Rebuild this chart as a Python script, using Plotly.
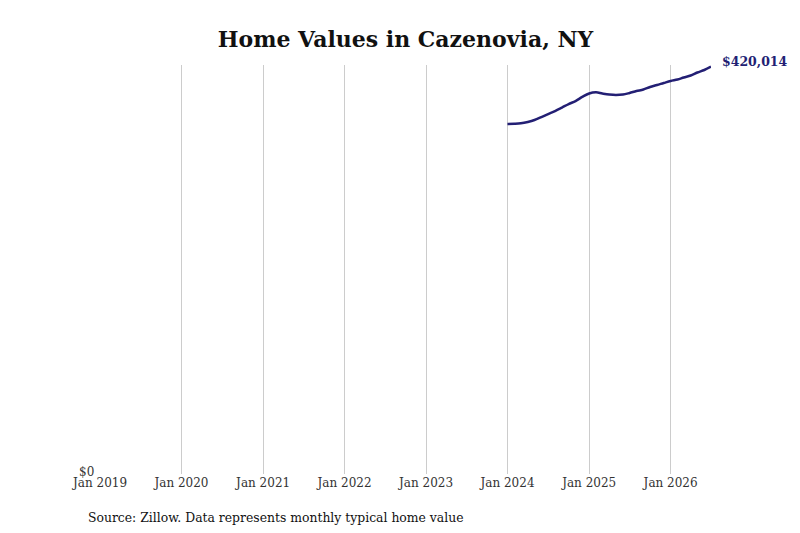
import pandas as pd
import plotly.graph_objects as go

# ---- DATA -------
months = pd.date_range('2024-01-01', '2026-07-01', freq='MS')
home_values = [
    360920, 361100, 361600, 363000, 365000, 368100, 371200, 374300,
    377900, 381500, 384600, 388800, 392400, 393600, 392400, 391300,
    390800, 391300, 392900, 394900, 396500, 399100, 401100, 403200,
    405300, 406800, 408900, 410900, 414000, 416600, 420014,
]
tick_dates = pd.date_range('2019-01-01', '2026-01-01', freq='YS')
tick_labels = [f'Jan {d.year}' for d in tick_dates]
# --------------------------

line_color = '#231f74'
font_family = 'DejaVu Serif'

# the page puts the figure 8px in from the top-left, so margins are trimmed by 8
m_left, m_top, plot_w, plot_h = 92, 57, 611, 409

fig = go.Figure()
fig.add_trace(go.Scatter(
    x=months, y=home_values, mode='lines',
    line=dict(color=line_color, width=2.5, shape='spline'),
    hoverinfo='skip',
))

last_value = home_values[-1]
fig.add_annotation(
    x=months[-1], y=last_value, text=f'<b>${last_value:,}</b>',
    showarrow=False, xanchor='left', yanchor='middle', xshift=9, yshift=5,
    font=dict(family=font_family, size=12.5, color=line_color),
)
fig.add_annotation(
    x=0, y=0, xref='paper', yref='y', text='$0',
    showarrow=False, xanchor='right', yanchor='middle', xshift=-4, yshift=2,
    font=dict(family=font_family, size=12, color='#333333'),
)
fig.add_annotation(
    x=(78 - m_left) / plot_w, y=(m_top + plot_h - 509) / plot_h,
    xref='paper', yref='paper', xanchor='left', yanchor='middle',
    text='Source: Zillow. Data represents monthly typical home value',
    showarrow=False,
    font=dict(family=font_family, size=12.4, color='#111111'),
)

fig.update_layout(
    width=800, height=533,
    margin=dict(l=m_left, r=800 - m_left - plot_w, t=m_top, b=533 - m_top - plot_h),
    paper_bgcolor='white', plot_bgcolor='white',
    showlegend=False,
    title=dict(text='<b>Home Values in Cazenovia, NY</b>', x=0.5, xref='paper',
               y=1 - 31 / 533, yanchor='middle',
               font=dict(family=font_family, size=22, color='#111111')),
    font=dict(family=font_family),
)
fig.update_xaxes(
    range=[pd.Timestamp('2019-01-01'), months[-1]],
    tickvals=tick_dates, ticktext=tick_labels,
    showgrid=True, gridcolor='#cccccc', gridwidth=1,
    showline=False, zeroline=False, ticks='',
    tickfont=dict(family=font_family, size=12, color='#333333'),
)
fig.update_yaxes(
    range=[0, 421760], showgrid=False, zeroline=False, showline=False,
    showticklabels=False, ticks='',
)

fig.write_html("out.html")
